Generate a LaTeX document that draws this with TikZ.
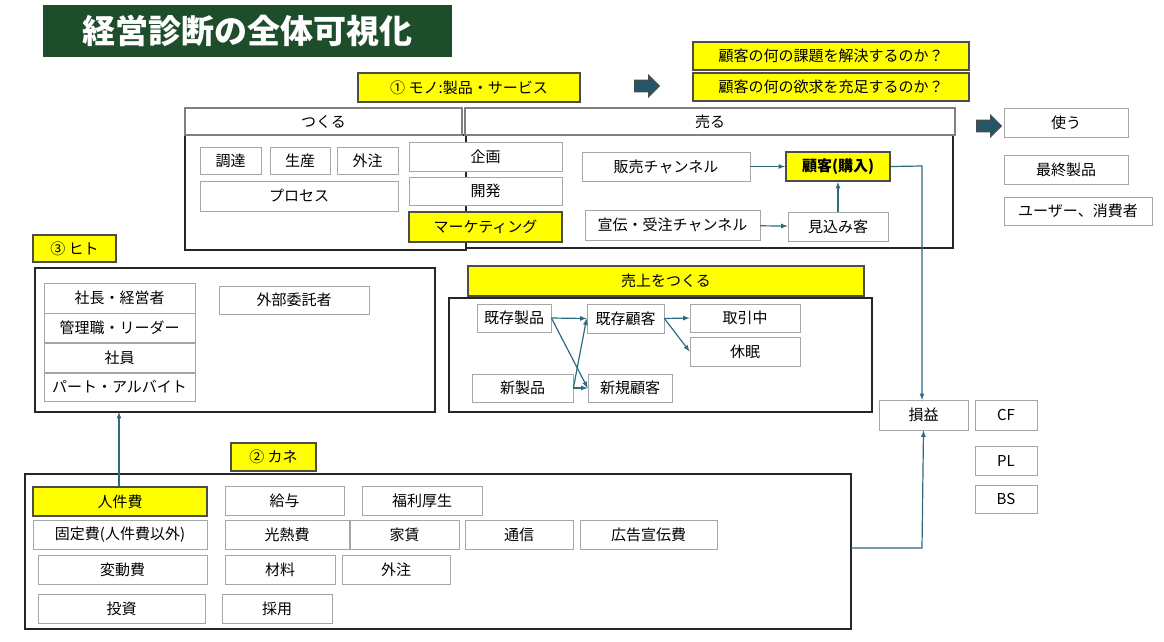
\documentclass[tikz,border=0pt]{standalone}
\usepackage{fontspec}
\setmainfont{Noto Sans CJK JP}
\usetikzlibrary{shapes.arrows}
\definecolor{arrowblue}{HTML}{2E6A80}
\definecolor{titlegreen}{HTML}{1E4D2B}
\definecolor{hiyellow}{HTML}{FFFF00}
\newcommand\bx[7]{\node[#6, minimum width={(#4-#2)*1pt}, minimum height={(#5-#3)*1pt}]
  (#1) at ({(#2+#4)/2},{(#3+#5)/2}) {#7};}
\begin{document}
\begin{tikzpicture}[x=1pt, y=-1pt,
    every node/.style={inner sep=0pt, font=\fontsize{15}{17}\selectfont},
    box/.style={draw=gray!70, line width=0.8pt, fill=white},
    ybox/.style={draw=gray!60!black, line width=2pt, fill=hiyellow},
    head/.style={draw=gray, line width=2pt, fill=white},
    frame/.style={draw=black!85, line width=1.4pt},
    link/.style={draw=arrowblue, line width=1.2pt, -latex},
    blk/.style={single arrow, fill=arrowblue!80!black, draw=black!70, line width=0.8pt,
      text height=11pt, minimum height=25pt, single arrow head extend=5pt},
  ]
  \useasboundingbox (0,0) rectangle (1164,641);
  % title
  \node[fill=titlegreen, text=white, minimum width=409pt, minimum height=52pt,
    font=\fontsize{33}{37}\selectfont\bfseries] (title) at (247.5,31) {経営診断の全体可視化};
  % mono
  \bx{mono}{358}{73}{580}{102}{ybox}{① モノ:製品・サービス}
  \node[blk] (arrA) at (644,86) {};
  \bx{kadai}{693}{42}{969}{70}{ybox}{顧客の何の課題を解決するのか？}
  \bx{yokkyu}{693}{73}{969}{101}{ybox}{顧客の何の欲求を充足するのか？}
  \draw[frame] (185,135) rectangle (466,250);
  \draw[frame] (466,135) rectangle (953,248);
  \bx{tsukuru}{185}{108}{462}{135}{head}{つくる}
  \bx{uru}{465}{108}{955}{135}{head}{売る}
  \bx{chotatsu}{200}{147}{261}{174}{box}{調達}
  \bx{seisan}{270}{147}{330}{174}{box}{生産}
  \bx{gaichuA}{337}{147}{398}{174}{box}{外注}
  \bx{process}{200}{181}{398}{211}{box}{プロセス}
  \bx{kikaku}{409}{142}{562}{171}{box}{企画}
  \bx{kaihatsu}{409}{177}{562}{205}{box}{開発}
  \bx{marketing}{409}{212}{562}{242}{ybox}{マーケティング}
  \bx{hanbai}{582}{152}{750}{181}{box}{販売チャンネル}
  \bx{kokyaku}{786}{152}{890}{181}{ybox}{\bfseries 顧客(購入)}
  \bx{senden}{585}{210}{760}{240}{box}{宣伝・受注チャンネル}
  \bx{mikomi}{788}{212}{888}{241}{box}{見込み客}
  \draw[link] (hanbai) -- (kokyaku);
  \draw[link] (senden) -- (mikomi);
  \draw[link] (mikomi) -- (kokyaku);
  % right side
  \node[blk] (arrB) at (986,126) {};
  \bx{tsukau}{1004}{108}{1128}{137}{box}{使う}
  \bx{saishu}{1004}{155}{1128}{184}{box}{最終製品}
  \bx{user}{1004}{197}{1152}{225}{box}{ユーザー、消費者}
  % hito
  \bx{hito}{33}{235}{116}{262}{ybox}{③ ヒト}
  \draw[frame] (35,268) rectangle (435,412);
  \coordinate (hitoB) at (119,412);
  \bx{shacho}{44}{283}{195}{313}{box}{社長・経営者}
  \bx{kanri}{44}{313}{195}{342}{box}{管理職・リーダー}
  \bx{shain}{44}{343}{195}{372}{box}{社員}
  \bx{part}{44}{373}{195}{401}{box}{パート・アルバイト}
  \bx{gaibu}{219}{286}{369}{314}{box}{外部委託者}
  % uriage
  \bx{uriage}{468}{266}{864}{296}{ybox}{売上をつくる}
  \draw[frame] (449,298) rectangle (872,412);
  \bx{kizonS}{477}{304}{551}{332}{box}{既存製品}
  \bx{kizonK}{587}{304}{664}{333}{box}{既存顧客}
  \bx{torihiki}{690}{304}{800}{332}{box}{取引中}
  \bx{kyumin}{690}{337}{800}{366}{box}{休眠}
  \bx{shinS}{472}{374}{573}{402}{box}{新製品}
  \bx{shinK}{588}{374}{672}{402}{box}{新規顧客}
  \draw[link] (kizonS.east) -- (kizonK.west);
  \draw[link] (kizonS.east) -- (shinK.west);
  \draw[link] (shinS.east) -- (kizonK.west);
  \draw[link] (shinS.east) -- (shinK.west);
  \draw[link] (kizonK.east) -- (torihiki.west);
  \draw[link] (kizonK.east) -- (kyumin.west);
  % zaimu
  \bx{soneki}{879}{400}{968}{430}{box}{損益}
  \bx{cf}{975}{400}{1037}{430}{box}{CF}
  \bx{pl}{975}{446}{1037}{475}{box}{PL}
  \bx{bs}{975}{485}{1037}{513}{box}{BS}
  \draw[link] (kokyaku.east) -- (922,166) -- (922,400);
  % kane
  \bx{kane}{231}{443}{316}{471}{ybox}{② カネ}
  \draw[frame] (25,474) rectangle (851,629);
  \coordinate (kaneE) at (851,548);
  \bx{jinken}{33}{487}{207}{516}{ybox}{人件費}
  \bx{kyuyo}{225}{486}{344}{515}{box}{給与}
  \bx{fukuri}{362}{486}{482}{515}{box}{福利厚生}
  \bx{kotei}{33}{520}{207}{549}{box}{固定費(人件費以外)}
  \bx{konetsu}{225}{520}{349}{549}{box}{光熱費}
  \bx{yachin}{350}{520}{459}{549}{box}{家賃}
  \bx{tsushin}{465}{520}{573}{549}{box}{通信}
  \bx{kokoku}{580}{520}{717}{549}{box}{広告宣伝費}
  \bx{hendo}{38}{555}{207}{584}{box}{変動費}
  \bx{zairyo}{225}{555}{335}{584}{box}{材料}
  \bx{gaichuB}{342}{555}{450}{584}{box}{外注}
  \bx{toshi}{38}{594}{205}{623}{box}{投資}
  \bx{saiyo}{222}{594}{332}{623}{box}{採用}
  \draw[link] (jinken.north -| hitoB) -- (hitoB);
  \draw[link] (kaneE) -- (922,548) -- (soneki.south);
\end{tikzpicture}
\end{document}
